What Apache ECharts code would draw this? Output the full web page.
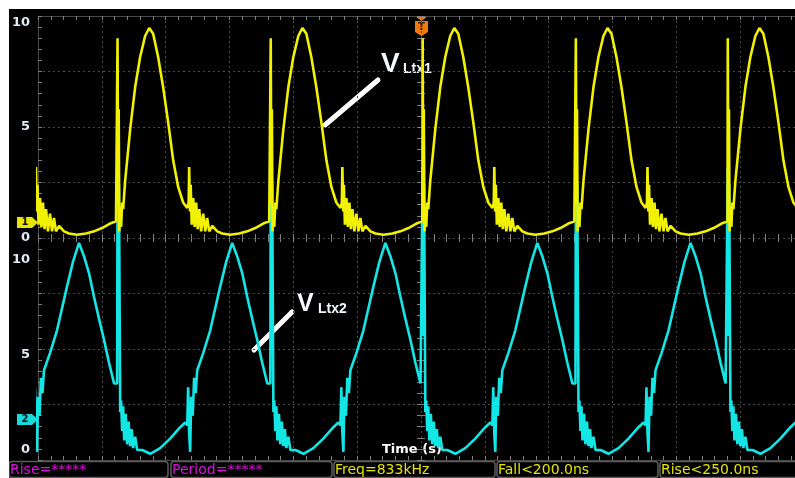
<!DOCTYPE html>
<html>
<head>
<meta charset="utf-8">
<script src="https://cdn.jsdelivr.net/npm/echarts@6/dist/echarts.min.js"></script>
<style>
  html, body { margin: 0; padding: 0; background: #fff; }
  #chart { width: 795px; height: 478px; }
</style>
</head>
<body>
<div id="chart"></div>
<script>
  // switching edges, in µs (trigger sits on the 3.0 one)
  var edgeTimes = [-0.58, 0.62, 1.82, 3.01, 4.21, 5.40];

  // one period of V_Ltx1 after an edge: time in ns, value in V
  var ltx1Time = [0, 3, 8, 12, 17, 24, 31, 39, 47, 63, 102, 141, 180, 219, 251, 282, 321, 360, 400, 439, 478, 517, 549,
    560, 564, 571, 576, 584, 596, 607, 619, 631, 643, 658, 674, 690, 705, 721, 745, 784, 823, 886, 956, 1019, 1082, 1144, 1191];
  var ltx1Volt = [0.75, 9.0, 1.5, 5.8, 0.3, 1.4, 0.5, 1.6, 1.3, 2.6, 4.9, 6.8, 8.15, 9.1, 9.46, 9.2, 8.15, 6.8, 5.2, 3.5, 2.3, 1.6, 1.35,
    1.6, 3.2, 1.2, 2.4, 0.6, 1.8, 0.5, 1.6, 0.4, 1.3, 0.3, 1.1, 0.3, 0.9, 0.3, 0.55, 0.3, 0.2, 0.15, 0.2, 0.3, 0.45, 0.65, 0.75];

  // one period of V_Ltx2 after the same edge
  var ltx2Time = [0, 3, 9, 14, 24, 31, 39, 47, 55, 67, 78, 90, 102, 114, 125, 141, 157, 196, 259, 337, 415, 494, 533,
    549, 556, 564, 572, 580, 592, 603, 615, 627, 674, 729, 807, 854, 901, 940, 980, 1019, 1058, 1097, 1136, 1176, 1191];
  var ltx2Volt = [3.5, 14.9, 6.0, 14.0, 2.0, 2.6, 1.0, 2.3, 0.5, 1.9, 0.3, 1.5, 0.2, 1.1, 0.1, 0.7, 0.0, 0.0, -0.2, 0.1, 0.6, 1.2, 1.45,
    1.3, 3.3, 0.9, -0.1, 2.8, 1.8, 3.8, 3.0, 4.2, 5.1, 6.3, 8.6, 9.9, 10.9, 10.2, 9.3, 8.05, 6.9, 5.8, 4.6, 3.5, 3.4];

  var ch1Labels = [0, 5, 10];
  var ch2Labels = [0, 5, 10];
  var measureTexts = ['Rise=*****', 'Period=*****', 'Freq=833kHz', 'Fall<200.0ns', 'Rise<250.0ns'];
  var measureColors = ['#dd10dd', '#dd10dd', '#e4e400', '#e4e400', '#e4e400'];

  function buildTrace(times, volts) {
    var out = [];
    edgeTimes.forEach(function (e) {
      times.forEach(function (t, i) {
        out.push([e + t / 1000, volts[i]]);
      });
    });
    return out;
  }

  var gridColor = '#4a4a4a';
  var tickColor = '#808080';

  function tickAxis(extra) {
    var ax = {
      type: 'value', min: -6, max: 6, interval: 1,
      axisLabel: { show: false },
      splitLine: { show: false },
      axisLine: { show: true, onZero: false, lineStyle: { color: gridColor, width: 1 } },
      axisTick: { show: true, inside: true, length: 4, lineStyle: { color: tickColor } },
      minorTick: { show: true, splitNumber: 5, length: 4, lineStyle: { color: tickColor } }
    };
    return echarts.util.merge(ax, extra || {}, true);
  }

  // bottom status bar
  var measureGraphics = [];
  var boxX = [9, 171, 334, 497, 660];
  var boxW = [159, 161, 161, 161, 140];
  measureTexts.forEach(function (txt, i) {
    measureGraphics.push({
      type: 'rect', shape: { x: boxX[i], y: 461.5, width: boxW[i], height: 16, r: 3 },
      style: { fill: '#000', stroke: '#5c5c5c', lineWidth: 1.5 }
    });
    measureGraphics.push({
      type: 'text', x: boxX[i] + 1, y: 470,
      style: { text: txt, fill: measureColors[i], font: '14px "DejaVu Sans"', verticalAlign: 'middle' }
    });
  });

  var chart = echarts.init(document.getElementById('chart'));
  var option = {
    backgroundColor: '#000',
    animation: false,
    grid: { left: 38, top: 16, width: 766, height: 444, outerBoundsMode: 'none' },
    xAxis: [
      // divisions: dotted graticule + bottom border
      tickAxis({ position: 'bottom', splitLine: { show: true, lineStyle: { color: gridColor, type: [2, 3] } } }),
      tickAxis({ position: 'top' }),
      // centre line ticks, both sides
      tickAxis({ position: 'bottom', axisLine: { show: false, onZero: true, onZeroAxisIndex: 0 } }),
      tickAxis({ position: 'bottom', axisLine: { show: false, onZero: true, onZeroAxisIndex: 0 }, axisTick: { inside: false } }),
      // time, µs
      { type: 'value', min: 0, max: 6, show: false, axisLine: { onZero: false } }
    ],
    yAxis: [
      tickAxis({ min: -4, max: 4, position: 'left', splitLine: { show: true, lineStyle: { color: gridColor, type: [2, 3] } } }),
      tickAxis({ min: -4, max: 4, position: 'left', axisLine: { show: false, onZero: true, onZeroAxisIndex: 0 } }),
      tickAxis({ min: -4, max: 4, position: 'left', axisLine: { show: false, onZero: true, onZeroAxisIndex: 0 }, axisTick: { inside: false } }),
      //region channel scales
      {
        type: 'value', min: -10, max: 10, position: 'left',
        axisLine: { show: false, onZero: false }, axisTick: { show: false }, splitLine: { show: false },
        axisLabel: {
          customValues: ch1Labels, margin: 8, color: '#e2eaf6', fontWeight: 'bold',
          fontSize: 13, fontFamily: 'DejaVu Sans', verticalAlignMaxLabel: 'top'
        }
      },
      {
        type: 'value', min: -10 / 19, max: 434 / 19, position: 'left',
        axisLine: { show: false, onZero: false }, axisTick: { show: false }, splitLine: { show: false },
        axisLabel: {
          customValues: ch2Labels, margin: 8, color: '#e2eaf6', fontWeight: 'bold',
          fontSize: 13, fontFamily: 'DejaVu Sans'
        }
      }
      //endregion
    ],
    series: [
      {
        name: 'VLtx2', type: 'line', xAxisIndex: 4, yAxisIndex: 4,
        data: buildTrace(ltx2Time, ltx2Volt), symbol: 'none', clip: true,
        lineStyle: { color: '#14e6e6', width: 2.6 }
      },
      {
        name: 'VLtx1', type: 'line', xAxisIndex: 4, yAxisIndex: 3,
        data: buildTrace(ltx1Time, ltx1Volt), symbol: 'none', clip: true,
        lineStyle: { color: '#f2f200', width: 2.6 }
      }
    ],
    graphic: [
      { type: 'rect', shape: { x: 0, y: 0, width: 795, height: 9 }, style: { fill: '#fff' }, z: 100 },
      { type: 'rect', shape: { x: 0, y: 0, width: 9, height: 478 }, style: { fill: '#fff' }, z: 100 },
      // channel markers
      { type: 'polygon', shape: { points: [[17, 217], [32, 217], [38, 222.5], [32, 228], [17, 228]] }, style: { fill: '#e6e600' } },
      { type: 'text', x: 25, y: 222.5, style: { text: '1', fill: '#111', font: 'bold 10px "DejaVu Sans"', align: 'center', verticalAlign: 'middle' } },
      { type: 'polygon', shape: { points: [[17, 414], [32, 414], [38, 419.5], [32, 425], [17, 425]] }, style: { fill: '#18dada' } },
      { type: 'text', x: 25, y: 419.5, style: { text: '2', fill: '#111', font: 'bold 10px "DejaVu Sans"', align: 'center', verticalAlign: 'middle' } },
      // trigger marker
      { type: 'polygon', shape: { points: [[415, 16], [428, 16], [421.5, 21]] }, style: { fill: '#f07a10' } },
      { type: 'polygon', shape: { points: [[415, 21], [428, 21], [428, 32], [421.5, 36], [415, 32]] }, style: { fill: '#f07a10' } },
      { type: 'text', x: 421.5, y: 27.5, style: { text: 'T', fill: '#3a1800', font: 'bold 10px "DejaVu Sans"', align: 'center', verticalAlign: 'middle' } },
      // annotations
      { type: 'line', shape: { x1: 325, y1: 125, x2: 378, y2: 80 }, style: { stroke: '#fff', lineWidth: 5, lineCap: 'round' } },
      { type: 'text', x: 381, y: 64.5, style: { text: 'V', fill: '#f4f8ff', font: 'bold 28px "Liberation Sans"', verticalAlign: 'middle' } },
      { type: 'text', x: 403, y: 69.5, style: { text: 'Ltx1', fill: '#f4f8ff', font: 'bold 14px "Liberation Sans"', verticalAlign: 'middle' } },
      { type: 'line', shape: { x1: 254, y1: 350, x2: 292, y2: 312 }, style: { stroke: '#fff', lineWidth: 5, lineCap: 'round' } },
      { type: 'text', x: 297, y: 304, style: { text: 'V', fill: '#f4f8ff', font: 'bold 25px "Liberation Sans"', verticalAlign: 'middle' } },
      { type: 'text', x: 318, y: 309, style: { text: 'Ltx2', fill: '#f4f8ff', font: 'bold 14px "Liberation Sans"', verticalAlign: 'middle' } },
      // axis name
      { type: 'text', x: 382, y: 450, style: { text: 'Time (s)', fill: '#fff', font: 'bold 13px "DejaVu Sans"', verticalAlign: 'middle' } }
    ].concat(measureGraphics)
  };
  chart.setOption(option);
</script>
</body>
</html>
